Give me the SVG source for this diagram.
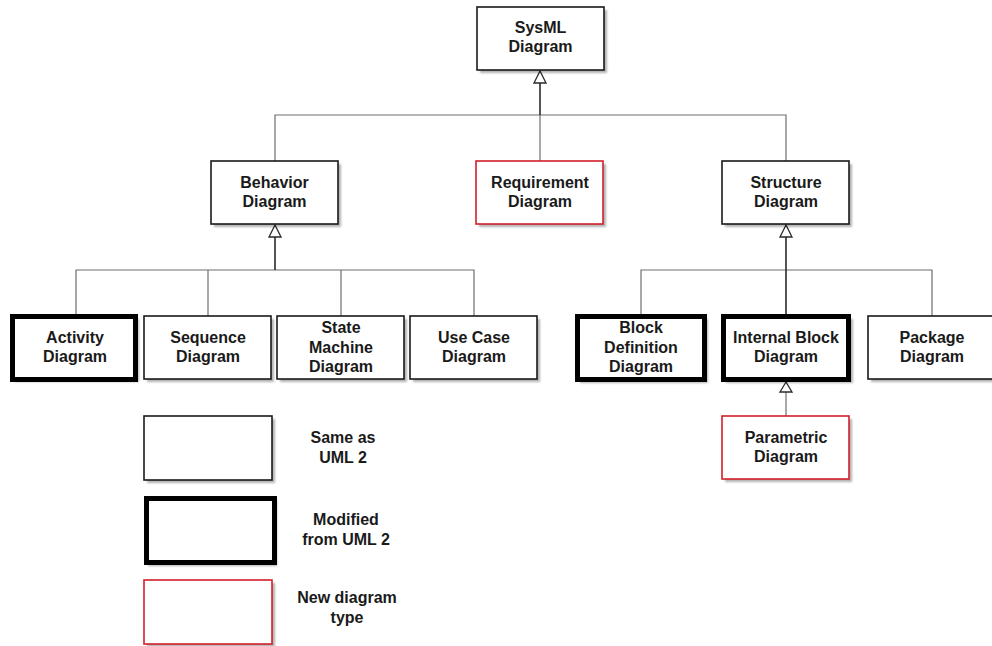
<svg xmlns="http://www.w3.org/2000/svg" width="992" height="646" viewBox="0 0 992 646">
  <style>
    text { font-family: "Liberation Sans", Arial, sans-serif; font-weight: bold; font-size: 16px; fill: #1a1a1a; text-anchor: middle; }
    .box { fill: #ffffff; stroke: #1a1a1a; stroke-width: 1.6; }
    .thick { fill: #ffffff; stroke: #000000; stroke-width: 5; }
    .new { fill: #ffffff; stroke: #d4202a; stroke-width: 1.6; }
    .shadow { fill: #000000; opacity: 0.3; filter: url(#soft); }
    .link { fill: none; stroke: #6e6e6e; stroke-width: 1.2; }
    .trunk { fill: none; stroke: #2a2a2a; stroke-width: 1.6; }
    .head { fill: #ffffff; stroke: #2a2a2a; stroke-width: 1.3; }
  </style>
  <defs>
    <filter id="soft" x="-10%" y="-10%" width="120%" height="130%">
      <feGaussianBlur stdDeviation="0.8"/>
    </filter>
  </defs>
  <rect width="992" height="646" fill="#ffffff"/>

  <!-- generalization connectors -->
  <g id="connectors">
    <!-- top level -->
    <polyline class="link" points="275,161 275,115 786,115 786,161"/>
    <line class="link" x1="540" y1="115" x2="540" y2="161"/>
    <line class="trunk" x1="540" y1="83" x2="540" y2="115"/>
    <polygon class="head" points="540,71 534,83 546,83"/>
    <!-- behavior branch -->
    <polyline class="link" points="76,316 76,270 474,270 474,316"/>
    <line class="link" x1="208" y1="270" x2="208" y2="316"/>
    <line class="link" x1="341" y1="270" x2="341" y2="316"/>
    <line class="trunk" x1="275" y1="237" x2="275" y2="270"/>
    <polygon class="head" points="275,225 269,237 281,237"/>
    <!-- structure branch -->
    <polyline class="link" points="641,316 641,270 932,270 932,316"/>
    <line class="trunk" x1="786" y1="237" x2="786" y2="316"/>
    <polygon class="head" points="786,225 780,237 792,237"/>
    <!-- parametric to internal block -->
    <line class="link" x1="786" y1="392" x2="786" y2="416"/>
    <polygon class="head" points="786,382 780,392 792,392"/>
  </g>

  <g id="sysml">
    <rect class="shadow" x="480" y="10" width="127" height="63"/>
    <rect class="box" x="477" y="7" width="127" height="63"/>
    <text x="540.5" y="33">SysML</text>
    <text x="540.5" y="52">Diagram</text>
  </g>

  <g id="behavior">
    <rect class="shadow" x="214" y="164" width="127" height="63"/>
    <rect class="box" x="211" y="161" width="127" height="63"/>
    <text x="274.5" y="188">Behavior</text>
    <text x="274.5" y="207">Diagram</text>
  </g>

  <g id="requirement">
    <rect class="shadow" x="479" y="164" width="127" height="63"/>
    <rect class="new" x="476" y="161" width="127" height="63"/>
    <text x="540" y="188">Requirement</text>
    <text x="540" y="207">Diagram</text>
  </g>

  <g id="structure">
    <rect class="shadow" x="725" y="164" width="127" height="63"/>
    <rect class="box" x="722" y="161" width="127" height="63"/>
    <text x="786" y="188">Structure</text>
    <text x="786" y="207">Diagram</text>
  </g>

  <g id="activity">
    <rect class="shadow" x="15" y="319" width="124" height="63"/>
    <rect class="thick" x="12.5" y="316.5" width="123" height="63"/>
    <text x="75" y="343">Activity</text>
    <text x="75" y="362">Diagram</text>
  </g>

  <g id="sequence">
    <rect class="shadow" x="147" y="319" width="127" height="63"/>
    <rect class="box" x="144" y="316" width="127" height="63"/>
    <text x="208" y="343">Sequence</text>
    <text x="208" y="362">Diagram</text>
  </g>

  <g id="state-machine">
    <rect class="shadow" x="280" y="319" width="127" height="63"/>
    <rect class="box" x="277" y="316" width="127" height="63"/>
    <text x="341" y="333">State</text>
    <text x="341" y="353">Machine</text>
    <text x="341" y="372">Diagram</text>
  </g>

  <g id="use-case">
    <rect class="shadow" x="413" y="319" width="127" height="63"/>
    <rect class="box" x="410" y="316" width="127" height="63"/>
    <text x="474" y="343">Use Case</text>
    <text x="474" y="362">Diagram</text>
  </g>

  <g id="block-definition">
    <rect class="shadow" x="580" y="319" width="128" height="64"/>
    <rect class="thick" x="577.5" y="316.5" width="127" height="63"/>
    <text x="641" y="333">Block</text>
    <text x="641" y="353">Definition</text>
    <text x="641" y="372">Diagram</text>
  </g>

  <g id="internal-block">
    <rect class="shadow" x="726" y="319" width="127" height="64"/>
    <rect class="thick" x="723.5" y="316.5" width="125" height="63"/>
    <text x="786" y="343">Internal Block</text>
    <text x="786" y="362">Diagram</text>
  </g>

  <g id="package">
    <rect class="shadow" x="871" y="319" width="128" height="63"/>
    <rect class="box" x="868" y="316" width="128" height="63"/>
    <text x="932" y="343">Package</text>
    <text x="932" y="362">Diagram</text>
  </g>

  <g id="parametric">
    <rect class="shadow" x="725" y="419" width="127" height="63"/>
    <rect class="new" x="722" y="416" width="127" height="63"/>
    <text x="786" y="443">Parametric</text>
    <text x="786" y="462">Diagram</text>
  </g>

  <!-- legend -->
  <g id="legend-same">
    <rect class="shadow" x="147" y="419" width="128" height="64"/>
    <rect class="box" x="144" y="416" width="128" height="64"/>
    <text x="343" y="443">Same as</text>
    <text x="343" y="463">UML 2</text>
  </g>
  <g id="legend-modified">
    <rect class="shadow" x="148" y="500" width="129" height="66"/>
    <rect class="thick" x="146.5" y="498.5" width="128" height="64"/>
    <text x="346" y="525">Modified</text>
    <text x="346" y="545">from UML 2</text>
  </g>
  <g id="legend-new">
    <rect class="shadow" x="147" y="583" width="128" height="64"/>
    <rect class="new" x="144" y="580" width="128" height="64"/>
    <text x="347" y="603">New diagram</text>
    <text x="347" y="623">type</text>
  </g>
</svg>
